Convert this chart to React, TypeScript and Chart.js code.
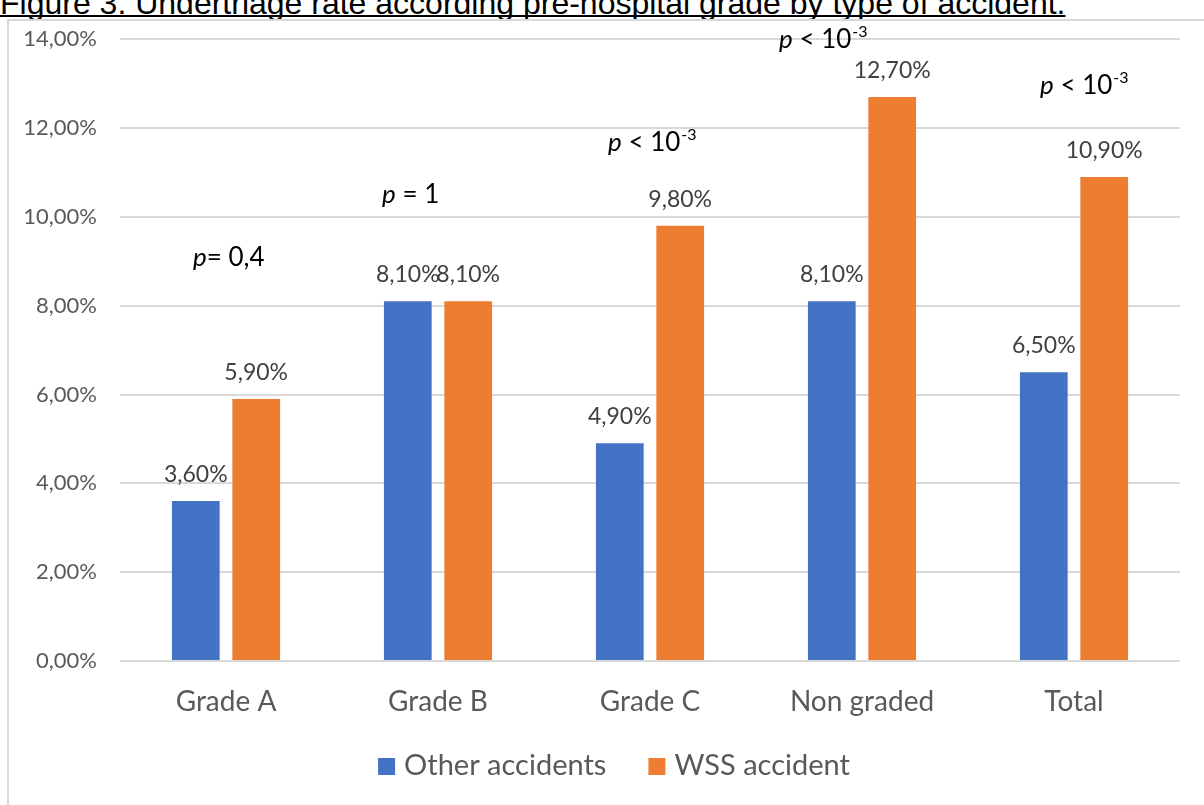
import React, { useEffect, useRef } from "react";
import { Chart, registerables } from "chart.js";

Chart.register(...registerables);

const categories = ["Grade A", "Grade B", "Grade C", "Non graded", "Total"];
const otherAccidents = [3.6, 8.1, 4.9, 8.1, 6.5];
const wssAccident = [5.9, 8.1, 9.8, 12.7, 10.9];
const yTicks = [0, 2, 4, 6, 8, 10, 12, 14];
const seriesNames = ["Other accidents", "WSS accident"];
const seriesColors = ["#4472C4", "#ED7D31"];

// p-value annotations (text, exponent, level on the y scale where the baseline sits)
const pText = ["= 0,4", " = 1", " < 10", " < 10", " < 10"];
const pExp = ["", "", "-3", "-3", "-3"];
const pLevel = [8.89, 10.31, 11.48, 13.8, 12.76];
const pShift = [-33, -56, -42, -83, -34];

const TITLE = "Figure 3. Undertriage rate according pre-hospital grade by type of accident.";
const FONT = "Lato, 'Open Sans', sans-serif";

const fmt = (v: number) => v.toFixed(2).replace(".", ",") + "%";

const overlayPlugin = {
  id: "overlay",
  afterDatasetsDraw(chart: any) {
    const ctx = chart.ctx as CanvasRenderingContext2D;
    // data labels
    chart.data.datasets.forEach((ds: any, di: number) => {
      const meta = chart.getDatasetMeta(di);
      meta.data.forEach((bar: any, i: number) => {
        ctx.save();
        ctx.font = `23px ${FONT}`;
        ctx.fillStyle = "#404040";
        ctx.textAlign = "center";
        ctx.textBaseline = "alphabetic";
        ctx.fillText(fmt(ds.data[i]), bar.x, bar.y - 19);
        ctx.restore();
      });
    });
    // p-value labels
    const xs = chart.scales.x;
    const ys = chart.scales.y;
    categories.forEach((_c, i) => {
      let x = xs.getPixelForValue(i) + pShift[i];
      const y = ys.getPixelForValue(pLevel[i]);
      ctx.save();
      ctx.fillStyle = "#000";
      ctx.textAlign = "left";
      ctx.textBaseline = "alphabetic";
      ctx.font = `italic 26px ${FONT}`;
      ctx.fillText("p", x, y);
      x += ctx.measureText("p").width;
      ctx.font = `26px ${FONT}`;
      ctx.fillText(pText[i], x, y);
      x += ctx.measureText(pText[i]).width;
      if (pExp[i]) {
        ctx.font = `16px ${FONT}`;
        ctx.fillText(pExp[i], x + 1, y - 11);
      }
      ctx.restore();
    });
    // legend
    ctx.save();
    ctx.font = `29px ${FONT}`;
    ctx.textBaseline = "alphabetic";
    ctx.textAlign = "left";
    const box = 17;
    const gapBoxText = 9;
    const gapItems = 42;
    const widths = seriesNames.map((n) => ctx.measureText(n).width);
    const total =
      widths.reduce((a, b) => a + b, 0) + seriesNames.length * (box + gapBoxText) + gapItems * (seriesNames.length - 1);
    let lx = 605 - total / 2;
    const baseY = 772;
    seriesNames.forEach((n, i) => {
      ctx.fillStyle = chart.data.datasets[i].backgroundColor;
      ctx.fillRect(lx, baseY - box, box, box);
      lx += box + gapBoxText;
      ctx.fillStyle = "#595959";
      ctx.fillText(n, lx, baseY);
      lx += widths[i] + gapItems;
    });
    ctx.restore();
  },
};

export default function App() {
  const ref = useRef<HTMLCanvasElement | null>(null);

  useEffect(() => {
    if (!ref.current) return;
    const chart = new Chart(ref.current, {
      type: "bar",
      data: {
        labels: categories,
        datasets: [
          {
            label: seriesNames[0],
            data: otherAccidents,
            backgroundColor: seriesColors[0],
            categoryPercentage: 0.57,
            barPercentage: 0.79,
          },
          {
            label: seriesNames[1],
            data: wssAccident,
            backgroundColor: seriesColors[1],
            categoryPercentage: 0.57,
            barPercentage: 0.79,
          },
        ],
      },
      options: {
        animation: false,
        responsive: false,
        devicePixelRatio: 1,
        layout: { padding: { top: 0, right: 29, left: 0, bottom: 0 } },
        plugins: {
          legend: { display: false },
          tooltip: { enabled: false },
          title: { display: false },
        },
        scales: {
          x: {
            grid: { display: false, drawTicks: false },
            border: { display: false },
            ticks: {
              color: "#595959",
              font: { family: FONT, size: 28 },
              padding: 24,
            },
            afterFit: (s: any) => {
              s.height = 142;
            },
          },
          y: {
            min: 0,
            max: 14,
            afterBuildTicks: (s: any) => {
              s.ticks = yTicks.map((v) => ({ value: v }));
            },
            grid: { color: "#d9d9d9", lineWidth: 2, drawTicks: false },
            border: { display: false },
            ticks: {
              color: "#595959",
              font: { family: FONT, size: 22 },
              padding: 23,
              callback: (v: any) => fmt(Number(v)),
            },
            afterFit: (s: any) => {
              s.width = 111;
            },
          },
        },
      },
      plugins: [overlayPlugin],
    });
    return () => chart.destroy();
  }, []);

  return (
    <div
      style={{
        position: "fixed",
        left: 0,
        top: 0,
        width: 1204,
        height: 805,
        overflow: "hidden",
        background: "#fff",
      }}
    >
      <div
        style={{
          position: "absolute",
          left: 0,
          top: -13,
          fontFamily: "'Liberation Sans', Arial, sans-serif",
          fontSize: 32,
          lineHeight: "32px",
          whiteSpace: "nowrap",
          color: "#000",
          textDecoration: "underline",
          textDecorationThickness: "2px",
          textUnderlineOffset: "1px",
          textDecorationSkipInk: "none",
        }}
      >
        {TITLE}
      </div>
      <div
        style={{
          position: "absolute",
          left: 7,
          top: 19,
          width: 1300,
          height: 900,
          border: "2px solid #d9d9d9",
          boxSizing: "border-box",
          background: "#fff",
        }}
      />
      <canvas
        ref={ref}
        width={1200}
        height={800}
        style={{ display: "block", position: "absolute", left: 9, top: 2.5 }}
      />
    </div>
  );
}
